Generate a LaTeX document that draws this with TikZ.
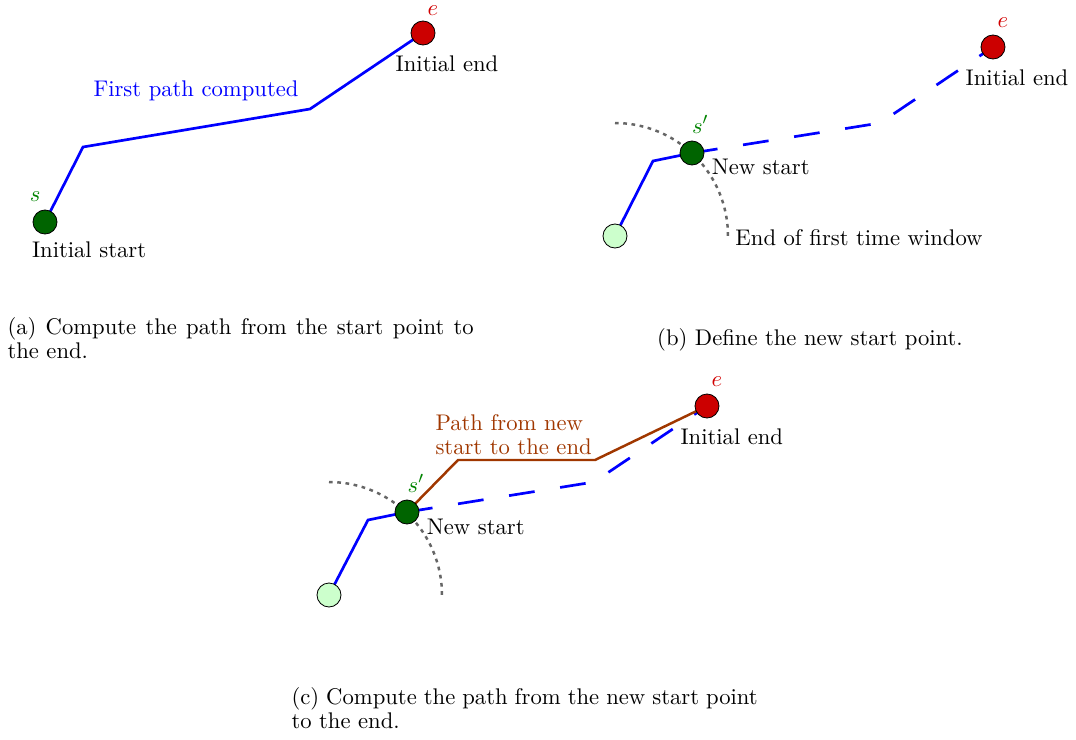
\documentclass[tikz,border=0pt]{standalone}
\usepackage{amsmath}
\usepackage{tikz}
\usetikzlibrary{positioning}
\usepackage{xcolor}

\definecolor{startgreen}{RGB}{0,100,0}
\definecolor{prevgreen}{RGB}{204,255,204}
\definecolor{endred}{RGB}{204,0,0}
\definecolor{newbrown}{RGB}{160,55,0}

\begin{document}
\begin{tikzpicture}[x=0.017cm, y=-0.017cm, semithick,
    every node/.style={font=\fontsize{10.95}{11.6}\selectfont},
    pt/.style={circle, draw=black, thin, minimum size=11.6pt, inner sep=0pt},
    startpt/.style={pt, fill=startgreen},
    prevpt/.style={pt, fill=prevgreen},
    endpt/.style={pt, fill=endred},
    route/.style={blue, line width=1.3pt},
    restroute/.style={route, dash pattern=on 12.5pt off 12.5pt},
    newroute/.style={newbrown, line width=1.2pt},
    window/.style={black!60, line width=1.2pt, dash pattern=on 1.8pt off 2.2pt},
    slbl/.style={text=startgreen!80!green},
    elbl/.style={text=endred!90!red},
    caption/.style={anchor=north west, text width=225.5pt, align=justify}]

    \useasboundingbox (0,0) rectangle (1076,739);

    % (a) first path
    \coordinate (a0) at (45,222);
    \coordinate (a1) at (83,147);
    \coordinate (a2) at (310,109);
    \coordinate (a3) at (423,33);
    \draw[route] (a0) -- (a1) -- (a2) -- (a3);
    \node[startpt] (sa) at (a0) {};
    \node[endpt] (ea) at (a3) {};
    \node[slbl, above=0.5pt of sa, xshift=-4.8pt] (sal) {$s$};
    \node[elbl, above=-1pt of ea, xshift=4.8pt] (eal) {$e$};
    \node[below=0pt of sa, xshift=21.3pt] (sat) {Initial start};
    \node[below=1.5pt of ea, xshift=11.6pt] (eat) {Initial end};
    \node[text=blue] (firstpath) at (196,91) {First path computed};
    \node[caption] (capa) at (0,310)
        {(a) Compute the path from the start point to the end.};

    % (b) new start
    \coordinate (b0) at (615,236);
    \coordinate (b1) at (653,161);
    \coordinate (bs) at (692,153);
    \coordinate (b2) at (880,123);
    \coordinate (b3) at (993,47);
    \draw[window] (b0) ++(0,-113) arc[start angle=-90, end angle=1, radius=113]
        coordinate (bw);
    \draw[route] (b0) -- (b1) -- (bs);
    \draw[restroute] (bs) -- (b2) -- (b3);
    \node[prevpt] (pb) at (b0) {};
    \node[startpt] (sb) at (bs) {};
    \node[endpt] (eb) at (b3) {};
    \node[slbl, above=0pt of sb, xshift=4pt] (sbl) {$s'$};
    \node[elbl, above=0pt of eb, xshift=4.8pt] (ebl) {$e$};
    \node[right=0pt of sb, yshift=-6.8pt] (sbt) {New start};
    \node[below=1.5pt of eb, xshift=11.6pt] (ebt) {Initial end};
    \node[right=0pt of bw] (bwt) {End of first time window};
    \node (capb) at (810,340) {(b) Define the new start point.};

    % (c) path from the new start
    \coordinate (c0) at (329,595);
    \coordinate (c1) at (368,520);
    \coordinate (cs) at (407,512);
    \coordinate (c2) at (594,482);
    \coordinate (c3) at (707,406);
    \coordinate (n1) at (458,460);
    \coordinate (n2) at (595,460);
    \draw[window] (c0) ++(0,-113) arc[start angle=-90, end angle=1, radius=113];
    \draw[route] (c0) -- (c1) -- (cs);
    \draw[restroute] (cs) -- (c2) -- (c3);
    \draw[newroute] (cs) -- (n1) -- (n2) -- (c3);
    \node[prevpt] (pc) at (c0) {};
    \node[startpt] (sc) at (cs) {};
    \node[endpt] (ec) at (c3) {};
    \node[slbl, above=0pt of sc, xshift=4.3pt] (scl) {$s'$};
    \node[elbl, above=0pt of ec, xshift=4.8pt] (ecl) {$e$};
    \node[right=0pt of sc, yshift=-7.2pt] (sct) {New start};
    \node[below=1.5pt of ec, xshift=12pt] (ect) {Initial end};
    \node[text=newbrown, align=left, above right=-1pt and -14.5pt of n1] (newpath)
        {Path from new\\start to the end};
    \node[caption] (capc) at (284,680)
        {(c) Compute the path from the new start point to the end.};
\end{tikzpicture}
\end{document}
